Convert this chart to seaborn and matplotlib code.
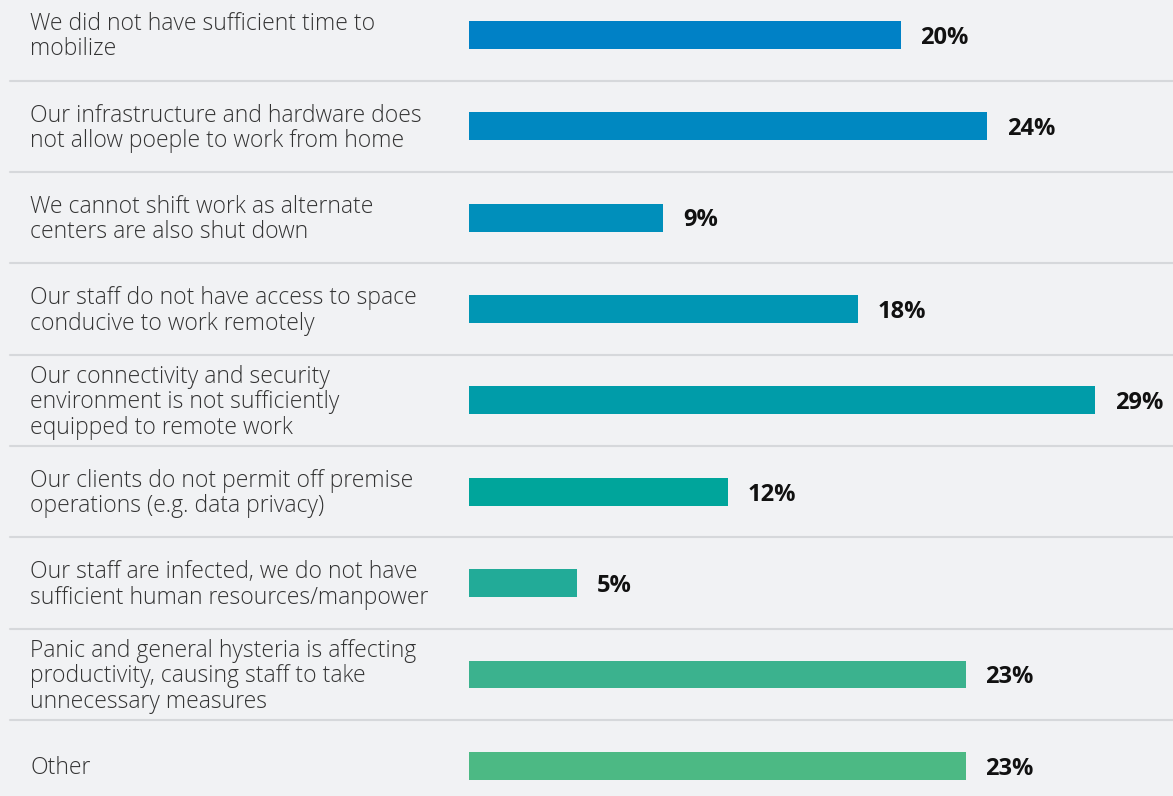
import matplotlib
matplotlib.use("Agg")
import matplotlib.pyplot as plt
import matplotlib.transforms as mtransforms
import seaborn as sns
import pandas as pd

# Chart data
reasons = [
    "We did not have sufficient time to\nmobilize",
    "Our infrastructure and hardware does\nnot allow poeple to work from home",
    "We cannot shift work as alternate\ncenters are also shut down",
    "Our staff do not have access to space\nconducive to work remotely",
    "Our connectivity and security\nenvironment is not sufficiently\nequipped to remote work",
    "Our clients do not permit off premise\noperations (e.g. data privacy)",
    "Our staff are infected, we do not have\nsufficient human resources/manpower",
    "Panic and general hysteria is affecting\nproductivity, causing staff to take\nunnecessary measures",
    "Other",
]
shares = [20, 24, 9, 18, 29, 12, 5, 23, 23]
bar_colors = ["#0081c6", "#0088c1", "#008fbb", "#0096b4", "#009ca9",
              "#00a59b", "#22ab98", "#3bb28e", "#4cb984"]

df = pd.DataFrame({"reason": reasons, "share": shares})

bg = "#f1f2f4"
sns.set_theme(style="white")
plt.rcParams["font.family"] = ["Open Sans", "DejaVu Sans"]

fig = plt.figure(figsize=(11.73, 7.96), dpi=100, facecolor=bg)
ax = fig.add_axes([469 / 1173, 0, 704 / 1173, 1])
ax.set_facecolor(bg)

sns.barplot(data=df, x="share", y="reason", hue="reason", palette=bar_colors,
            legend=False, width=0.306, orient="h", ax=ax, saturation=1,
            linewidth=0)

ax.set_xlim(0, 704 / 21.6)
ax.set_ylim(8.33, -0.383)
ax.set_xlabel("")
ax.set_ylabel("")
ax.set_xticks([])
ax.set_yticks([])
for s in ax.spines.values():
    s.set_visible(False)

# separators between rows
for i in range(len(reasons) - 1):
    ax.axhline(i + 0.5, xmin=(10 - 469) / 704, xmax=1, color="#d6d8db",
               lw=1.5, clip_on=False)

# category labels on the left
trans = mtransforms.blended_transform_factory(fig.transFigure, ax.transData)
for i, r in enumerate(reasons):
    ax.text(30 / 1173, i + 0.02, r, transform=trans, ha="left", va="center",
            fontsize=16.5, color="#333333", linespacing=1.07,
            fontweight="light")

# value labels
for i, v in enumerate(shares):
    ax.text(v + 0.9, i + 0.03, f"{v}%", ha="left", va="center", fontsize=17,
            fontweight="bold", color="#111111")

fig.savefig("out.png", dpi=100, facecolor=bg)
